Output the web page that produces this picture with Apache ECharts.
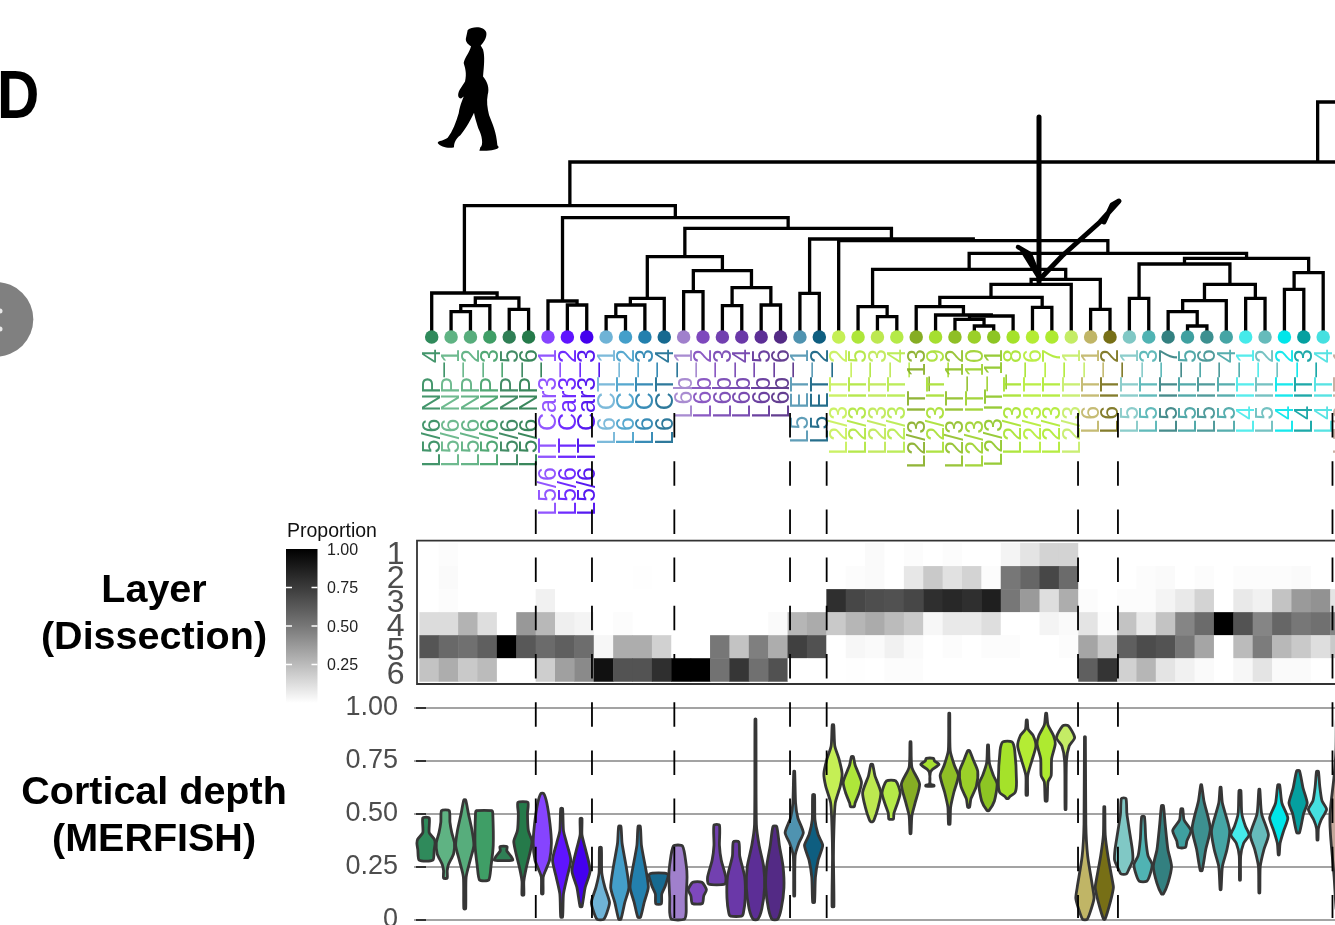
<!DOCTYPE html>
<html><head><meta charset="utf-8">
<style>html,body{margin:0;padding:0;background:#fff;overflow:hidden}#c{width:1335px;height:925px}</style>
<script src="https://cdn.jsdelivr.net/npm/echarts@6/dist/echarts.min.js"></script>
</head><body><div id="c"></div>
<script>
const leafLabels=["L5/6 NP_4","L5/6 NP_1","L5/6 NP_2","L5/6 NP_3","L5/6 NP_5","L5/6 NP_6",
"L5/6 IT Car3_1","L5/6 IT Car3_2","L5/6 IT Car3_3","L6 CT_1","L6 CT_2","L6 CT_3","L6 CT_4",
"L6b_1","L6b_2","L6b_3","L6b_4","L6b_5","L6b_6","L5 ET_1","L5 ET_2",
"L2/3 IT_2","L2/3 IT_5","L2/3 IT_3","L2/3 IT_4","L2/3 IT_13","L2/3 IT_9","L2/3 IT_12","L2/3 IT_10","L2/3 IT_11","L2/3 IT_8","L2/3 IT_6","L2/3 IT_7","L2/3 IT_1",
"L6 IT_1","L6 IT_2","L5 IT_1","L5 IT_3","L5 IT_7","L5 IT_5","L5 IT_6","L5 IT_4","L4 IT_1","L5 IT_2","L4 IT_2","L4 IT_3","L4 IT_4","L5/6 IT_1"];
const leafColors=["#2f8a5b","#5fb383","#57ad7c","#3f9e66","#2f7f55","#257a4a",
"#8644ff","#5f14ff","#4400ee","#6fb3d6","#449fca","#2380ae","#176a90",
"#a080cc","#7e48bd","#7240b0","#6a38a8","#5c2e96","#532a85","#4f93b0","#0e5e80",
"#c5ef55","#aee63a","#bde850","#b5ea48","#86ad24","#a6df30","#8fbf26","#9bd029","#8dc524","#a5e22a","#b4ec34","#aeea30","#c4ec65",
"#c0b566","#776f16","#80c8c5","#50b3b3","#338080","#3fa0a0","#3d9090","#45a5a5","#45eaea","#66bbbb","#00e6ea","#05a0a0","#45e0e0","#c4a79a"];

// dendrogram merges: [left child, right child, height]; a child >=0 is a leaf position, "m"+k a previous merge
const merges=[
[1,2,25.3],["m0",3,31.3],[4,5,27.7],["m1","m2",39],[0,"m3",44],
[7,8,32],[6,"m5",36],
[9,10,20.3],["m7",11,32],["m8",12,38.7],
[13,14,45.3],[15,16,31.3],[17,18,32],["m11","m12",49.3],["m10","m13",66.3],["m9","m14",80.3],
[19,20,43.7],
[23,24,20.3],[22,"m17",30.3],[28,29,11],[27,"m19",17.7],["m20",30,21],[26,"m21",22],[25,"m22",30.3],
[31,32,29.7],["m23","m24",39.7],["m25",33,52.7],[34,35,27.7],["m26","m27",57.7],["m18","m28",67.7],
[36,37,38.7],[39,40,11],[38,"m31",25.3],["m32",41,36.3],[42,43,38.7],["m33","m34",52.7],["m30","m35",73],
[44,45,47.7],["m37",46,64.3],["m36","m38",78.7],
["m29","m39",83.7],[21,"m40",96.3],["m16","m41",98],["m15","m42",108.7],["m6","m43",119.3],["m4","m44",131.3],
["m45",84.3,175],["m46",92,235]];

const layerNames=["1","2","3","4","5","6"];
const layer1=[0,.01,0,0,0,0, 0,0,0, 0,0,0,0, 0,0,0,0,0,0, 0,0, 0,0,.02,0,.01,0,.01,0,0,.04,.1,.16,.16, 0,0, 0,0,0,0,0,0,0,0,0,0,0, 0];
const layer2=[0,.02,0,0,0,0, 0,0,0, 0,0,.005,0, 0,0,0,0,0,0, 0,0, 0,.01,.02,0,.09,.2,.11,.16,.01,.5,.57,.7,.55, 0,0, 0,.01,.02,0,.01,0,.01,.01,.01,.02,0, 0];
const layer3=[0,.01,0,0,0,0, .05,0,0, 0,0,0,0, 0,0,0,0,0,0, 0,0, .8,.7,.67,.66,.7,.8,.83,.8,.87,.5,.37,.12,.3, .01,0, .01,.01,.04,.08,.16,0,.08,.05,.22,.37,.4, .1];
const layer4=[.13,.13,.28,.12,0,.38, .26,.06,.04, 0,.01,0,0, 0,0,0,0,0,.02, .27,.31, .2,.27,.31,.25,.2,.03,.08,.08,.12,0,0,.04,.02, .1,.01, .22,.08,.22,.45,.55,1,.65,.45,.57,.5,.53, .45];
const layer5=[.64,.56,.53,.6,1,.63, .55,.6,.54, .03,.3,.3,.17, 0,0,.5,.22,.47,.3, .73,.66, 0,.03,.02,.05,.02,0,.01,0,.01,.01,0,0,.01, .33,.2, .6,.68,.65,.5,.33,0,.25,.48,.26,.2,.12, .2];
const layer6=[.22,.3,.2,.25,0,0, .18,.35,.43, .93,.65,.65,.8,1,1,.52,.77,.53,.66, 0,0, 0,.005,0,.01,.01,0,0,0,0,0,0,0,0, .6,.78, .17,.27,.1,.05,.02,0,.03,.1,.02,.02,0, 0];
const layerRows=[layer1,layer2,layer3,layer4,layer5,layer6];

// cortical depth violins: each a list of [depth, relative width]
const violins=[
[[.48,.35],[.41,.35],[.38,.9],[.36,1],[.33,.9],[.28,.75]],
[[.514,.42],[.46,.5],[.41,.7],[.36,1],[.31,.9],[.26,.35],[.23,.2],[.195,.2]],
[[.565,.1],[.5,.4],[.42,.8],[.35,1],[.28,.6],[.2,.15],[.05,.1]],
[[.514,.85],[.5,.95],[.35,1],[.25,.75],[.186,.5]],
[[.344,.4],[.325,.35],[.3,.8],[.28,1]],
[[.553,.55],[.5,.5],[.42,.6],[.37,1],[.32,.8],[.24,.35],[.18,.1],[.115,.1]],
[[.596,.15],[.55,.5],[.45,.85],[.36,1],[.28,.8],[.23,.35],[.2,.1],[.12,.08]],
[[.525,.1],[.42,.2],[.36,.55],[.28,1],[.2,.6],[.12,.2],[.01,.1]],
[[.478,.1],[.4,.1],[.33,.5],[.23,1],[.15,.45],[.06,.1]],
[[.34,.1],[.22,.15],[.15,.5],[.08,1],[.03,.7],[0,.35]],
[[.44,.12],[.36,.25],[.25,.7],[.15,1],[.08,.55],[0,.12]],
[[.44,.12],[.35,.25],[.22,.8],[.15,1],[.08,.55],[.01,.15]],
[[.214,1],[.16,.75],[.12,.35],[.073,.3]],
[[.347,.5],[.26,.9],[.2,1],[.1,.9],[.03,.9],[0,.7]],
[[.175,.5],[.14,1],[.11,.7],[.075,.55]],
[[.446,.3],[.35,.3],[.28,.5],[.2,1],[.167,.9]],
[[.367,.3],[.3,.4],[.2,.95],[.1,1],[.03,.8],[.015,.6]],
[[.948,.05],[.45,.1],[.35,.4],[.25,.9],[.15,1],[.05,.7],[0,.25]],
[[.44,.2],[.35,.5],[.25,.9],[.15,1],[.05,.7],[0,.3]],
[[.7,.05],[.55,.15],[.48,.4],[.41,1],[.36,.5],[.3,.1],[.11,.05]],
[[.59,.1],[.47,.15],[.4,.5],[.35,1],[.28,.5],[.2,.2],[.08,.1]],
[[.92,.08],[.82,.2],[.76,.65],[.69,1],[.63,.8],[.55,.25],[.42,.1],[.3,.05],[.06,.1]],
[[.77,.1],[.73,.3],[.65,1],[.6,.75],[.55,.3],[.533,.2]],
[[.733,.1],[.68,.35],[.6,1],[.53,.7],[.47,.25],[.462,.1]],
[[.655,.5],[.6,1],[.55,.7],[.5,.3],[.475,.25]],
[[.84,.05],[.72,.15],[.64,1],[.55,.5],[.49,.15],[.405,.05]],
[[.762,.4],[.75,.5],[.733,1],[.71,.3],[.695,.05],[.64,.05],[.635,.45],[.63,.45]],
[[.975,.05],[.8,.1],[.73,.55],[.68,1],[.6,.5],[.53,.15],[.45,.08]],
[[.798,.1],[.75,.55],[.7,1],[.63,.85],[.57,.25],[.53,.1]],
[[.825,.05],[.74,.15],[.68,.6],[.64,1],[.56,.7],[.514,.1]],
[[.84,.5],[.8,.8],[.65,1],[.6,.85],[.58,.25],[.572,.1]],
[[.943,.05],[.9,.15],[.87,.7],[.82,1],[.75,.55],[.68,.1],[.588,.08]],
[[.975,.05],[.92,.2],[.87,.8],[.83,1],[.76,.6],[.68,.55],[.65,.2],[.56,.1]],
[[.916,.3],[.86,1],[.82,.4],[.75,.1],[.52,.05]],
[[.864,.05],[.45,.1],[.3,.3],[.15,.85],[.1,1],[.05,.7],[0,.25]],
[[.533,.05],[.4,.1],[.3,.4],[.18,.9],[.15,1],[.08,.65],[0,.08]],
[[.572,.25],[.5,.35],[.4,.7],[.33,.95],[.28,1],[.24,.6],[.215,.3]],
[[.486,.15],[.38,.3],[.3,.55],[.26,1],[.21,.75],[.18,.4]],
[[.538,.1],[.45,.3],[.33,.6],[.25,1],[.17,.6],[.12,.1]],
[[.522,.1],[.47,.25],[.42,1],[.37,.55],[.34,.4]],
[[.636,.05],[.56,.3],[.43,1],[.33,.5],[.23,.1]],
[[.625,.05],[.55,.2],[.42,1],[.33,.7],[.25,.2],[.14,.05]],
[[.61,.1],[.5,.2],[.44,.6],[.4,1],[.36,.4],[.3,.08],[.185,.05]],
[[.615,.05],[.5,.25],[.4,1],[.33,.5],[.25,.1],[.125,.05]],
[[.636,.1],[.55,.35],[.48,1],[.42,.55],[.36,.15],[.305,.05]],
[[.703,.15],[.62,.55],[.55,1],[.5,.6],[.41,.15]],
[[.7,.1],[.63,.25],[.56,.5],[.52,1],[.47,.4],[.43,.1],[.375,.05]],
[[.95,.05],[.8,.1],[.68,.3],[.5,.75],[.4,.7],[.2,.3],[.05,.08]]];
const depthTicks=[0,.25,.5,.75,1];
const legendTicks=[1,.75,.5,.25];
const groupCuts=[5.37,8.27,12.52,18.49,20.38,33.35,35.41,46.48];

const PITCH=19.38, DOT_X=431.7, DOT_Y=337, VIO_X=426, HEAT_X=419.6, W=1335, H=925;
const FONT='"Liberation Sans",Arial,sans-serif';
const FIGURE_PATH='M128 32C143 20 178 20 184 40C186 56 174 70 167 78L174 90C180 110 177 140 174 170C187 185 194 205 188 225C184 245 187 265 192 285C202 310 214 335 217 375L221 380C219 389 190 393 163 391L166 381C176 375 171 345 160 325C152 300 148 285 147 278C139 295 125 322 106 345C92 355 87 368 87 381C70 386 45 379 38 368C40 361 55 363 68 353C83 333 93 308 101 280C106 250 113 240 116 230L108 236C99 236 96 225 104 210L120 185C126 160 120 145 116 130C118 115 133 100 138 80C128 75 120 65 123 55Z';

// resolve merges into drawable links
const pos=[];const links=[];
function node(c){return (typeof c==='string')?pos[+c.slice(1)]:{x:c,h:0};}
merges.forEach(m=>{const a=node(m[0]),b=node(m[1]);links.push([a.x,a.h,b.x,b.h,m[2]]);pos.push({x:(a.x+b.x)/2,h:m[2]});});

const heat=[];layerRows.forEach((r,ri)=>r.forEach((v,ci)=>heat.push([ci,ri,v])));

const hideAxis={show:false};
const option={
 animation:false,backgroundColor:'#fff',
 grid:[
  {left:0,top:0,width:W,height:H,outerBoundsMode:'none'},
  {left:HEAT_X,top:543.3,width:PITCH*48,height:138.2,outerBoundsMode:'none'},
  {left:414,top:708,width:PITCH*48,height:211.3,outerBoundsMode:'none'},
  {left:HEAT_X,top:543,width:PITCH*48,height:144,outerBoundsMode:'none'}],
 xAxis:[
  {type:'value',gridIndex:0,min:-DOT_X/PITCH,max:(W-DOT_X)/PITCH,...hideAxis},
  {type:'category',gridIndex:1,data:leafLabels,...hideAxis},
  {type:'value',gridIndex:2,min:(414-VIO_X)/PITCH,max:(414-VIO_X)/PITCH+48,...hideAxis},
  {type:'category',gridIndex:3,data:leafLabels,...hideAxis}],
 yAxis:[
  {type:'value',gridIndex:0,min:DOT_Y-H,max:DOT_Y,...hideAxis},
  {type:'category',gridIndex:1,data:layerNames,inverse:true,...hideAxis},
  {type:'value',gridIndex:2,min:0,max:1,interval:.25,axisLine:{show:false},
   axisTick:{show:true,length:10,lineStyle:{color:'#333',width:2}},
   splitLine:{show:true,lineStyle:{color:'#858585',width:1.6}},
   axisLabel:{fontFamily:FONT,fontSize:27,color:'#4d4d4d',margin:16,showMinLabel:true,showMaxLabel:true,padding:[14,0,0,0],
     formatter:v=>depthTicks.includes(v)?(v===0?'0':v.toFixed(2)):''}},
  {type:'category',gridIndex:3,data:layerNames,inverse:true,axisLine:{show:false},axisTick:{show:false},
   axisLabel:{fontFamily:FONT,fontSize:32,color:'#4d4d4d',margin:15,interval:0}}],
 visualMap:{show:false,min:0,max:1,seriesIndex:0,dimension:2,inRange:{color:['#ffffff','#bbbbbb','#777777','#3b3b3b','#000000']}},
 series:[
  {type:'heatmap',xAxisIndex:1,yAxisIndex:1,data:heat,z:2},
  {type:'custom',name:'violins',xAxisIndex:2,yAxisIndex:2,z:3,clip:false,
   data:violins.map((v,i)=>[i,v[0][0]]),
   renderItem(p,api){const i=api.value(0),prof=violins[i];
     const r=prof.map(d=>api.coord([i+d[1]*.47,d[0]]));
     const l=prof.slice().reverse().map(d=>api.coord([i-d[1]*.47,d[0]]));
     return {type:'polygon',shape:{points:r.concat(l),smooth:.22},style:{fill:leafColors[i],stroke:'#363636',lineWidth:2.8,lineJoin:'round'}};}},
  {type:'custom',name:'dendrogram',xAxisIndex:0,yAxisIndex:0,z:4,clip:false,data:links,
   renderItem(p,api){const [a,b,c,d,t]=[0,1,2,3,4].map(k=>api.value(k));
     return {type:'polyline',shape:{points:[api.coord([a,b]),api.coord([a,t]),api.coord([c,t]),api.coord([c,d])]},
       style:{fill:null,stroke:'#000',lineWidth:3.3,lineJoin:'miter'}};}},
  {type:'scatter',name:'leaves',xAxisIndex:0,yAxisIndex:0,z:5,symbolSize:13.5,
   data:leafColors.map((c,i)=>({value:[i,0],itemStyle:{color:c,opacity:1}}))},
  {type:'custom',name:'labels',xAxisIndex:0,yAxisIndex:0,z:5,clip:false,
   data:leafLabels.map((s,i)=>[i,0]),
   renderItem(p,api){const i=api.value(0),c=api.coord([i,0]);
     return {type:'text',x:c[0]+1.5,y:c[1]+12,rotation:Math.PI/2,
       style:{text:leafLabels[i],fill:leafColors[i],font:'25px '+FONT,align:'right',verticalAlign:'middle',opacity:.9}};}},
  {type:'custom',name:'cuts',xAxisIndex:0,yAxisIndex:0,z:6,clip:false,
   data:groupCuts.map(x=>[x,0]),
   renderItem(p,api){const x=api.value(0),a=api.coord([x,DOT_Y-413]),b=api.coord([x,DOT_Y-918]);
     return {type:'line',shape:{x1:a[0],y1:a[1],x2:b[0],y2:b[1]},style:{stroke:'#000',lineWidth:1.8,lineDash:[24.5,23.7]}};}},
  {type:'custom',name:'figure',xAxisIndex:0,yAxisIndex:0,z:8,clip:false,
   data:[[0,0]],
   renderItem(){return {type:'path',shape:{pathData:FIGURE_PATH,x:437.7,y:27.3,width:61,height:123.5,layout:'cover'},style:{fill:'#000'}};}}
 ],
 graphic:{elements:[
  {type:'rect',z:7,shape:{x:417,y:540.7,width:1000,height:143.3},style:{fill:'none',stroke:'#333',lineWidth:1.8}},
  // hand-drawn arrow
  {type:'polyline',z:8,shape:{points:[[1039,117],[1039,282]]},style:{fill:null,stroke:'#000',lineWidth:5,lineCap:'round'}},
  {type:'polyline',z:8,shape:{points:[[1018,247],[1030,254],[1040,279],[1022,250]]},style:{fill:null,stroke:'#000',lineWidth:4.5,lineCap:'round',lineJoin:'round'}},
  {type:'polyline',z:8,shape:{points:[[1040,279],[1062,256],[1100,222],[1119,201],[1112,205],[1104,222]]},style:{fill:null,stroke:'#000',lineWidth:5,lineCap:'round',lineJoin:'round'}},
  // panel letter and side button
  {type:'text',z:8,x:-3,y:64,scaleX:.85,style:{text:'D',font:'bold 69px '+FONT,fill:'#000',verticalAlign:'top'}},
  {type:'circle',z:8,shape:{cx:-4,cy:319.3,r:37.3},style:{fill:'#808080'}},
  {type:'circle',z:9,shape:{cx:0,cy:311,r:2.5},style:{fill:'#e8e8e8'}},
  {type:'circle',z:9,shape:{cx:0,cy:329,r:2.5},style:{fill:'#e8e8e8'}},
  // row titles
  ...[['Layer',591],['(Dissection)',638],['Cortical depth',793],['(MERFISH)',840]].map(t=>({type:'text',z:8,x:154,y:t[1],
     style:{text:t[0],font:'bold 39.5px '+FONT,fill:'#000',align:'center',verticalAlign:'middle'}})),
  // legend
  {type:'text',z:8,x:287,y:532,style:{text:'Proportion',font:'19.5px '+FONT,fill:'#111',align:'left',verticalAlign:'middle'}},
  {type:'rect',z:8,shape:{x:286,y:549,width:31.5,height:154},
   style:{fill:{type:'linear',x:0,y:0,x2:0,y2:1,colorStops:[{offset:0,color:'#000'},{offset:.25,color:'#3b3b3b'},{offset:.5,color:'#777'},{offset:.75,color:'#bbb'},{offset:1,color:'#fff'}]}}},
  ...legendTicks.flatMap(v=>{const y=703-154*v;return [
    {type:'text',z:8,x:327,y:y+1.5,style:{text:v.toFixed(2),font:'16px '+FONT,fill:'#222',align:'left',verticalAlign:'middle'}},
    ...(v<1?[{type:'rect',z:9,shape:{x:286,y:y-.75,width:6,height:1.5},style:{fill:'#fff'}},
             {type:'rect',z:9,shape:{x:311.5,y:y-.75,width:6,height:1.5},style:{fill:'#fff'}}]:[])];})
 ]}
};
const chart=echarts.init(document.getElementById('c'),null,{renderer:'canvas',width:W,height:H});
chart.setOption(option);
</script></body></html>
